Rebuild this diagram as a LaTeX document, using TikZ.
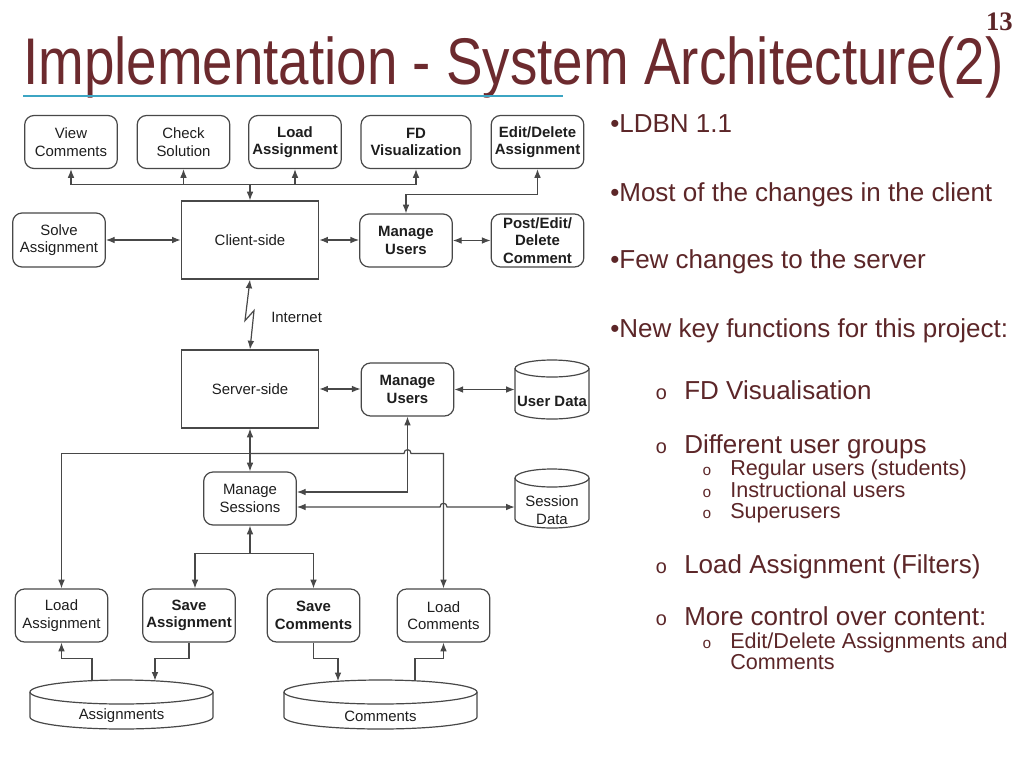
\documentclass[tikz,border=0pt]{standalone}
\usepackage{graphicx}
\usepackage{fontspec}
\setmainfont{Liberation Sans}
\newfontfamily\serifbold{Liberation Serif}
\newfontfamily\bulmono{Liberation Mono}
\usetikzlibrary{arrows.meta,calc}
\definecolor{titlec}{RGB}{108,42,46}
\definecolor{bodyc}{RGB}{92,38,40}
\definecolor{linec}{RGB}{72,72,72}
\definecolor{txtc}{RGB}{30,30,30}
\definecolor{tealc}{RGB}{60,165,195}
\newcommand{\bxfont}{\fontsize{11.2}{13.2}\selectfont}
\newcommand{\mycyl}[5]{%
  \fill[white] (#1,{#3+#5}) -- (#1,{#4-#5}) .. controls (#1,{#4-#5+0.5523*#5}) and ({(#1+#2)/2-0.5523*(#2-#1)/2},#4) .. ({(#1+#2)/2},#4) .. controls ({(#1+#2)/2+0.5523*(#2-#1)/2},#4) and (#2,{#4-#5+0.5523*#5}) .. (#2,{#4-#5}) -- (#2,{#3+#5}) -- cycle;
  \draw[cylline] ({(#1+#2)/2},{#3+#5}) ellipse [x radius={(#2-#1)/2}, y radius=#5];
  \draw[cylline] (#1,{#3+#5}) -- (#1,{#4-#5}) .. controls (#1,{#4-#5+0.5523*#5}) and ({(#1+#2)/2-0.5523*(#2-#1)/2},#4) .. ({(#1+#2)/2},#4) .. controls ({(#1+#2)/2+0.5523*(#2-#1)/2},#4) and (#2,{#4-#5+0.5523*#5}) .. (#2,{#4-#5}) -- (#2,{#3+#5});
}
\begin{document}
\begin{tikzpicture}[x=0.75pt,y=-0.75pt,
  rbox/.style={draw=linec, line width=0.9pt, rounded corners=7pt, fill=white,
    minimum width=69.5pt, minimum height=39.75pt, inner sep=0pt, align=center,
    font=\bxfont, text=txtc},
  bbox/.style={rbox, font=\bxfont\bfseries},
  sqbox/.style={draw=linec, line width=0.9pt, fill=white, minimum width=103pt,
    minimum height=58.5pt, inner sep=0pt, font=\bxfont, text=txtc},
  cylline/.style={draw=linec, line width=0.9pt},
  cylnode/.style={inner sep=0pt},
  cyltext/.style={inner sep=0pt, align=center, font=\bxfont, text=txtc},
  conn/.style={draw=linec, line width=0.9pt},
  arr/.style={conn, -{Latex[length=6.5pt,width=5pt]}},
  darr/.style={conn, {Latex[length=6.5pt,width=5pt]}-{Latex[length=6.5pt,width=5pt]}},
  rt/.style={anchor=base west, inner sep=0pt, text=bodyc, font=\fontsize{19.5}{23}\selectfont},
  rts/.style={anchor=base west, inner sep=0pt, text=bodyc, font=\fontsize{16.2}{19}\selectfont},
  bul/.style={anchor=base west, inner sep=0pt, text=bodyc, font=\bulmono\fontsize{15}{15}\selectfont},
  buls/.style={anchor=base west, inner sep=0pt, text=bodyc, font=\bulmono\fontsize{11.5}{11.5}\selectfont}
]
\fill[white] (0,0) rectangle (1024,768);
\useasboundingbox (0,0) rectangle (1024,768);

% title
\node[anchor=base west, inner sep=0pt, text=titlec] (title) at (23,84)
  {\scalebox{0.83}[1]{\fontsize{49.5}{56}\selectfont Implementation - System Architecture(2)}};
\draw[tealc, line width=1.5pt] (23,96) -- (563,96);
\node[anchor=base east, inner sep=0pt, text=bodyc, font=\serifbold\bfseries\fontsize{20}{20}\selectfont] (pg) at (1013,30) {13};

% top row
\node[rbox] (vc) at (71,142) {View\\Comments};
\node[rbox] (cs) at (183.5,142) {Check\\Solution};
\node[bbox] (la1) at (295,142) {Load\\Assignment};
\node[bbox, minimum width=82.5pt] (fd) at (416,142) {FD\\Visualization};
\node[bbox] (ed) at (537.5,142) {Edit/Delete\\Assignment};

% second row
\node[rbox, minimum height=40.5pt] (solve) at (59,240) {Solve\\Assignment};
\node[sqbox] (client) at (250,240) {Client-side};
\node[bbox] (mu1) at (406,240.5) {Manage\\Users};
\node[bbox] (post) at (537.5,240.5) {Post/Edit/\\Delete\\Comment};

% server row
\node[sqbox] (server) at (250,389) {Server-side};
\node[bbox] (mu2) at (407.5,389.5) {Manage\\Users};
\mycyl{515}{589}{360}{419}{8.5}
\node[cylnode, minimum width=55.5pt, minimum height=44.25pt] (udata) at (552,389.5) {};
\node[cyltext, font=\bxfont\bfseries] (udt) at (552,401) {User Data};

% sessions
\node[rbox] (ms) at (250,498.5) {Manage\\Sessions};
\mycyl{515}{589}{469}{528}{9}
\node[cylnode, minimum width=55.5pt, minimum height=44.25pt] (sdata) at (552,498.5) {};
\node[cyltext] (sdt) at (552,510) {Session\\Data};

% bottom row
\node[rbox] (la) at (61.5,615.5) {Load\\Assignment};
\node[bbox] (sa) at (189,615.5) {Save\\Assignment};
\node[bbox] (sc) at (313.5,615.5) {Save\\Comments};
\node[rbox] (lc) at (443.5,615.5) {Load\\Comments};

% databases
\mycyl{30}{213}{680}{729}{12}
\node[cylnode, minimum width=137.25pt, minimum height=36.75pt] (adb) at (121.5,704.5) {};
\node[cyltext] (adt) at (121.5,716) {Assignments};
\mycyl{284}{477}{680}{729}{12}
\node[cylnode, minimum width=144.75pt, minimum height=36.75pt] (cdb) at (380.5,704.5) {};
\node[cyltext] (cdt) at (380.5,716) {Comments};

% connectors: client
\coordinate (jt) at ($(client.north)+(0,-16)$);
\draw[arr] (jt) -- (client.north);
\draw[arr] (jt) -| (vc.south);
\draw[arr] (jt) -| (cs.south);
\draw[arr] (jt) -| (la1.south);
\draw[arr] (jt) -| (fd.south);
\coordinate (je) at ($(mu1.north)+(0,-19)$);
\draw[darr] (ed.south) |- (je) -- (mu1.north);
\draw[darr] (solve.east) -- (solve.east -| client.west);
\draw[darr] (client.east) -- (client.east -| mu1.west);
\draw[darr] (mu1.east) -- (mu1.east -| post.west);

% internet
\draw[darr] (client.south) -- ++(-5,41) -- ++(9,-10) -- (server.north);
\node[anchor=west, inner sep=0pt, font=\bxfont, text=txtc] (inet) at (271,317) {Internet};

% server
\draw[darr] (server.east) -- (server.east -| mu2.west);
\draw[darr] (mu2.east) -- (mu2.east -| udata.west);
\draw[darr] (server.south) -- (ms.north);

\coordinate (jb) at ($(ms.north)+(0,-18)$);
\coordinate (h1) at (jb -| mu2.south);
\draw[arr] (jb) -| (la.north);
\draw[arr] (jb) -- ($(h1)+(-3.5,0)$) .. controls ($(h1)+(-3.5,-5)$) and ($(h1)+(3.5,-5)$) .. ($(h1)+(3.5,0)$) -| (lc.north);

\coordinate (m1) at ($(ms.east)+(0,-6.5)$);
\draw[darr] (mu2.south) |- (m1);
\coordinate (m2) at ($(ms.east)+(0,8.5)$);
\coordinate (h2) at (m2 -| lc.north);
\draw[darr] (m2) -- ($(h2)+(-3.5,0)$) .. controls ($(h2)+(-3.5,-5)$) and ($(h2)+(3.5,-5)$) .. ($(h2)+(3.5,0)$) -- (m2 -| sdata.west);

% sessions to save
\coordinate (js) at ($(ms.south)+(0,28)$);
\draw[arr] (js) -- (ms.south);
\draw[arr] (js) -| ($(sa.north)+(6,0)$);
\draw[arr] (js) -| (sc.north);

% database links
\coordinate (a1) at ($(adb.north)+(-29.5,1)$);
\coordinate (a2) at ($(adb.north)+(33.5,1)$);
\coordinate (c1) at ($(cdb.north)+(-42.5,1.5)$);
\coordinate (c2) at ($(cdb.north)+(34.5,1)$);
\draw[arr] (a1) |- ($(la.south)+(0,16)$) -- (la.south);
\draw[arr] (sa.south) -- ++(0,16) -| (a2);
\draw[arr] (sc.south) -- ++(0,16) -| (c1);
\draw[arr] (c2) |- ($(lc.south)+(0,16)$) -- (lc.south);

% right text
\node[rt] (t1) at (610,132) {•LDBN 1.1};
\node[rt] (t2) at (610,201) {•Most of the changes in the client};
\node[rt] (t3) at (610,268) {•Few changes to the server};
\node[rt] (t4) at (610,337) {•New key functions for this project:};

\node[bul] (b1) at (655,399) {o};
\node[rt] (t5) at (684,399) {FD Visualisation};
\node[bul] (b2) at (655,453) {o};
\node[rt] (t6) at (684,453) {Different user groups};
\node[buls] (b3) at (702,475) {o};
\node[rts] (t7) at (730,475) {Regular users (students)};
\node[buls] (b4) at (702,497) {o};
\node[rts] (t8) at (730,497) {Instructional users};
\node[buls] (b5) at (702,518) {o};
\node[rts] (t9) at (730,518) {Superusers};
\node[bul] (b6) at (655,573) {o};
\node[rt] (t10) at (684,573) {Load Assignment (Filters)};
\node[bul] (b7) at (655,625) {o};
\node[rt] (t11) at (684,625) {More control over content:};
\node[buls] (b8) at (702,648) {o};
\node[rts] (t12) at (730,648) {Edit/Delete Assignments and};
\node[rts] (t13) at (730,669) {Comments};
\end{tikzpicture}
\end{document}
